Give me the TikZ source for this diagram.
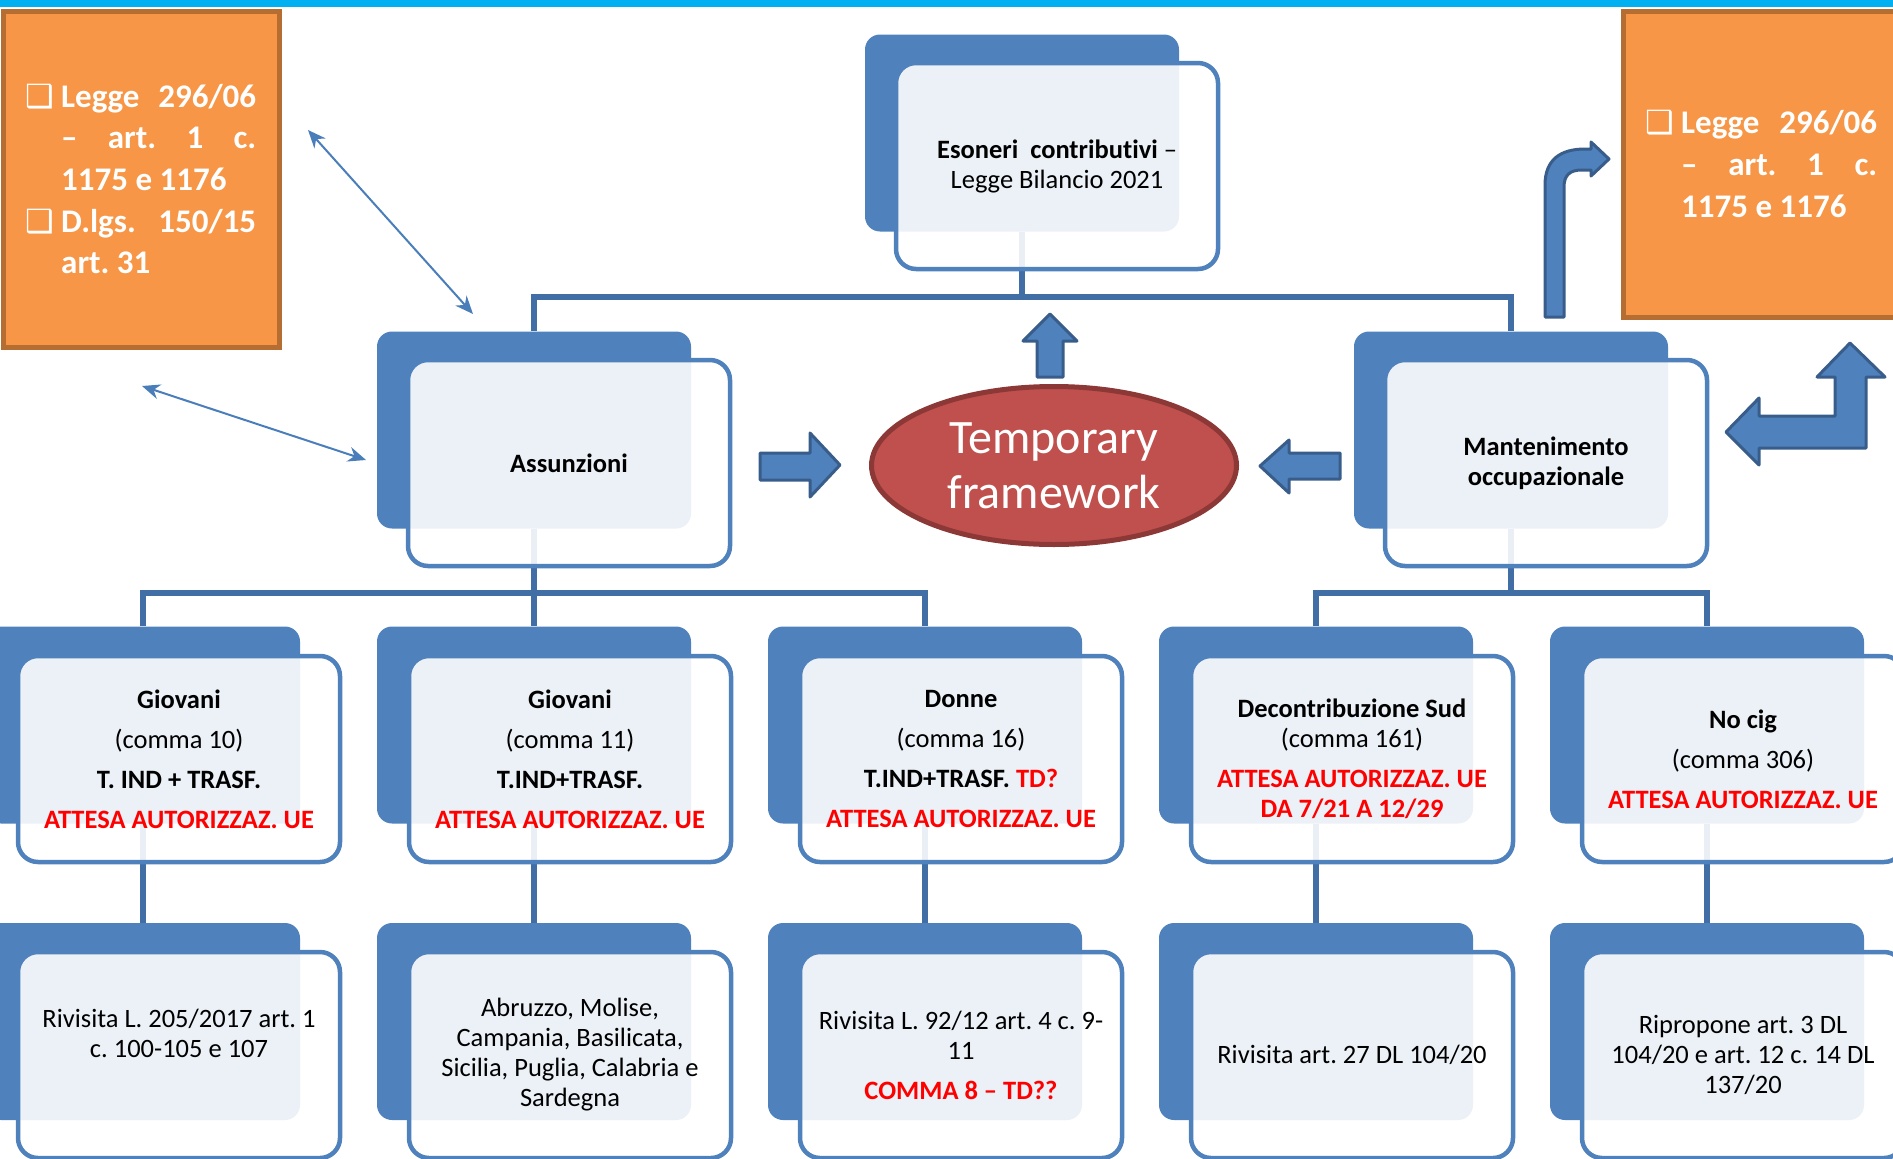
\documentclass[tikz,border=0pt]{standalone}
\usepackage{fontspec}
\setmainfont[Ligatures={NoCommon}]{Carlito}
\newfontfamily\dejavu{DejaVu Sans}
\usetikzlibrary{shapes.geometric,arrows.meta}
\definecolor{backblue}{HTML}{4F81BD}
\definecolor{conblue}{HTML}{416EA5}
\definecolor{arrowedge}{HTML}{385D8A}
\definecolor{orfill}{HTML}{F79646}
\definecolor{ordraw}{HTML}{B66D31}
\definecolor{elfill}{HTML}{C0504D}
\definecolor{eldraw}{HTML}{8C3836}
\definecolor{topband}{HTML}{00B0F0}
\definecolor{thinblue}{HTML}{4A7EBB}
\definecolor{uered}{HTML}{FF0000}
\newcommand\redb[1]{\textcolor{uered}{\bfseries #1}}
\frenchspacing
\begin{document}
\begin{tikzpicture}[x=1pt,y=-1pt,
  backbox/.style={rectangle, rounded corners=15pt, fill=backblue, minimum width=314pt, minimum height=197pt, inner sep=0pt},
  frontbox/.style={rectangle, rounded corners=20pt, draw=backblue, line width=4.5pt, fill=white, fill opacity=0.89, text opacity=1, minimum width=322pt, minimum height=206pt, inner sep=0pt, align=center, font=\fontsize{26.5}{30}\selectfont},
  conn/.style={draw=conblue, line width=5.5pt},
  blockarrow/.style={fill=backblue, draw=arrowedge, line width=3pt, line join=round},
  orbox/.style={rectangle, fill=orfill, draw=ordraw, line width=5pt, inner sep=0pt},
  ortext/.style={anchor=base west, inner sep=0pt, text=white, font=\fontsize{33}{40}\selectfont\bfseries},
  orbullet/.style={anchor=base west, inner sep=0pt, text=white, font=\dejavu\fontsize{32}{34}\selectfont},
  thinarrow/.style={draw=thinblue, line width=2pt, {Stealth[length=18pt,width=15pt]}-{Stealth[length=18pt,width=15pt]}},
]
\useasboundingbox (0,0) rectangle (1893,1159);
\clip (0,0) rectangle (1893,1159);
\fill[topband] (0,0) rectangle (1893,7);

% back boxes
\node[backbox] (topB) at (1022,133) {};
\node[backbox] (assB) at (534,430) {};
\node[backbox] (manB) at (1511,430) {};
\node[backbox] (g1B) at (143,725) {};
\node[backbox] (g2B) at (534,725) {};
\node[backbox] (d3B) at (925,725) {};
\node[backbox] (d4B) at (1316,725) {};
\node[backbox] (d5B) at (1707,725) {};
\node[backbox] (r1B) at (143,1021.5) {};
\node[backbox] (r2B) at (534,1021.5) {};
\node[backbox] (r3B) at (925,1021.5) {};
\node[backbox] (r4B) at (1316,1021.5) {};
\node[backbox] (r5B) at (1707,1021.5) {};

% connectors
\coordinate (bus0) at (0,297);
\coordinate (bus1) at (0,593);
\draw[conn] (topB.south) -- (topB.south |- bus0);
\draw[conn] (assB.north) -- (assB.north |- bus0) -| (manB.north);
\draw[conn] (assB.south) -- (g2B.north);
\draw[conn] (g1B.north) |- (d3B.north |- bus1) -- (d3B.north);
\draw[conn] (manB.south) -- (manB.south |- bus1);
\draw[conn] (d4B.north) |- (d5B.north |- bus1) -- (d5B.north);
\draw[conn] (g1B.south) -- (r1B.north);
\draw[conn] (g2B.south) -- (r2B.north);
\draw[conn] (d3B.south) -- (r3B.north);
\draw[conn] (d4B.south) -- (r4B.north);
\draw[conn] (d5B.south) -- (r5B.north);

% front boxes
\node[frontbox] (topF) at (1057,166) {\textbf{Esoneri\ \ contributivi} --\\Legge Bilancio 2021};
\node[frontbox] (assF) at (569,463) {\textbf{Assunzioni}};
\node[frontbox] (manF) at (1546,463) {\textbf{Mantenimento}\\\textbf{occupazionale}};
\node[frontbox] (g1F) at (179,759) {\textbf{Giovani}\\[10pt](comma 10)\\[10pt]\textbf{T. IND + TRASF.}\\[10pt]\redb{ATTESA AUTORIZZAZ. UE}};
\node[frontbox] (g2F) at (570,759) {\textbf{Giovani}\\[10pt](comma 11)\\[10pt]\textbf{T.IND+TRASF.}\\[10pt]\redb{ATTESA AUTORIZZAZ. UE}};
\node[frontbox] (d3F) at (961,759) {\textbf{Donne}\\[10pt](comma 16)\\[10pt]\textbf{T.IND+TRASF.} \redb{TD?}\\[10pt]\redb{ATTESA AUTORIZZAZ. UE}};
\node[frontbox] (d4F) at (1352,759) {\textbf{Decontribuzione Sud}\\(comma 161)\\[10pt]\redb{ATTESA AUTORIZZAZ. UE}\\\redb{DA 7/21 A 12/29}};
\node[frontbox] (d5F) at (1743,759) {\textbf{No cig}\\[10pt](comma 306)\\[10pt]\redb{ATTESA AUTORIZZAZ. UE}};
\node[frontbox] (r1F) at (179,1055) {Rivisita L. 205/2017 art. 1\\c. 100-105 e 107\\[14pt]\mbox{}};
\node[frontbox] (r2F) at (570,1055) {Abruzzo, Molise,\\Campania, Basilicata,\\Sicilia, Puglia, Calabria e\\Sardegna};
\node[frontbox] (r3F) at (961,1055) {Rivisita L. 92/12 art. 4 c. 9-\\11\\[10pt]\redb{COMMA 8 -- TD??}};
\node[frontbox] (r4F) at (1352,1055) {Rivisita art. 27 DL 104/20};
\node[frontbox] (r5F) at (1743,1055) {Ripropone art. 3 DL\\104/20 e art. 12 c. 14 DL\\137/20};

% orange boxes
\node[orbox, minimum width=276pt, minimum height=336pt] (lorange) at (141,179) {};
\node[orbullet] (lb1) at (25,107) {❑};
\node[ortext] (lt1) at (61,107) {\makebox[195pt][s]{Legge 296/06}};
\node[ortext] (lt2) at (61,148) {\makebox[195pt][s]{-- art. 1 c.}};
\node[ortext] (lt3) at (61,190) {1175 e 1176};
\node[orbullet] (lb2) at (25,232) {❑};
\node[ortext] (lt4) at (61,232) {\makebox[195pt][s]{D.lgs. 150/15}};
\node[ortext] (lt5) at (61,273) {art. 31};

\node[orbox, minimum width=327pt, minimum height=306pt] (rorange) at (1786.5,164) {};
\node[orbullet] (rb1) at (1645,133) {❑};
\node[ortext] (rt1) at (1681,133) {\makebox[196pt][s]{Legge 296/06}};
\node[ortext] (rt2) at (1681,175) {\makebox[196pt][s]{-- art. 1 c.}};
\node[ortext] (rt3) at (1681,217) {1175 e 1176};

% thin double arrows
\coordinate (ta1s) at (308,130);
\coordinate (ta1e) at (473,314);
\coordinate (ta2s) at (142,386);
\coordinate (ta2e) at (366,460);
\draw[thinarrow] (ta1s) -- (ta1e);
\draw[thinarrow] (ta2s) -- (ta2e);

% ellipse
\node[ellipse, fill=elfill, draw=eldraw, line width=5pt, minimum width=365pt, minimum height=158pt, inner sep=0pt, text=white, align=center, font=\fontsize{48}{55}\selectfont] (tf) at (1054,465.5) {Temporary\\framework};

% block arrows
\draw[blockarrow] (1050,314) -- (1077,341) -- (1063,341) -- (1063,377) -- (1037,377) -- (1037,341) -- (1023,341) -- cycle;
\draw[blockarrow] (840,465) -- (810,433) -- (810,453) -- (760,453) -- (760,480) -- (810,480) -- (810,497) -- cycle;
\draw[blockarrow] (1260,466) -- (1289,440) -- (1289,453) -- (1340,453) -- (1340,479) -- (1289,479) -- (1289,493) -- cycle;
\draw[blockarrow] (1545,317) -- (1545,185) .. controls (1545,160) and (1560,149) .. (1585,149) -- (1591,149) -- (1591,142) -- (1609,159) -- (1591,176) -- (1591,170) -- (1582,170) .. controls (1570,170) and (1564,175) .. (1564,187) -- (1564,317) -- cycle;
\draw[blockarrow] (1850,343) -- (1885,377) -- (1866,377) -- (1866,448) -- (1759,448) -- (1759,465) -- (1726,432) -- (1759,398) -- (1759,416) -- (1835,416) -- (1835,377) -- (1817,377) -- cycle;
\end{tikzpicture}
\end{document}
